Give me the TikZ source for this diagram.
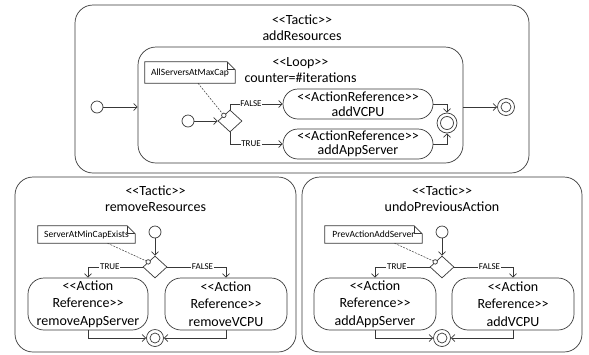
\documentclass[tikz,border=0pt]{standalone}
\usepackage{fontspec}
\setmainfont{Carlito}
\usetikzlibrary{arrows.meta,shapes.geometric,calc}
\newcommand\sopen{<\kern0pt<}
\newcommand\sclose{>\kern0pt>}
\newcommand\drawnote[2]{%
  \draw[ln] (#1.north west) -- ([xshift=-#2]#1.north east) -- ([yshift=-#2]#1.north east) -- (#1.south east) -- (#1.south west) -- cycle;
  \draw[ln] ([xshift=-#2]#1.north east) -- ([xshift=-#2,yshift=-#2]#1.north east) -- ([yshift=-#2]#1.north east);}
\begin{document}
\begin{tikzpicture}[x=1pt,y=-1pt,
  ln/.style={draw=black!78, line width=0.7pt},
  panel/.style={ln, rounded corners=18pt, inner sep=0},
  title/.style={align=center, inner sep=0, font=\fontsize{14}{16}\selectfont},
  act/.style={ln, rounded corners=15pt, inner sep=0, align=center, minimum width=150pt, minimum height=30pt, font=\fontsize{14}{14.5}\selectfont},
  actb/.style={ln, rounded corners=16pt, inner sep=0, align=center, minimum height=52pt, font=\fontsize{14}{17.5}\selectfont},
  init/.style={ln, circle, minimum size=12pt, inner sep=0},
  final/.style={ln, circle, minimum size=17pt, inner sep=0, path picture={\draw[ln] (path picture bounding box.center) circle (5pt);}},
  finalb/.style={ln, circle, minimum size=20pt, inner sep=0, path picture={\draw[ln] (path picture bounding box.center) circle (6.5pt);}},
  dec/.style={ln, diamond, minimum width=24pt, minimum height=22pt, inner sep=0, fill=white},
  sc/.style={ln, circle, minimum size=4.5pt, inner sep=0, fill=white},
  note/.style={inner sep=0, font=\fontsize{9.5}{11}\selectfont},
  lbl/.style={fill=white, inner sep=0.8pt, font=\fontsize{9}{10}\selectfont},
  arr/.style={ln, -{Straight Barb[length=3.5pt,width=7pt]}},
  dsh/.style={draw=black!78, line width=0.5pt, dash pattern=on 2pt off 1.2pt}]
\useasboundingbox (0,0) rectangle (589,354);

% panels
\node[panel, minimum width=454pt, minimum height=168pt] (top) at (302,89) {};
\node[panel, minimum width=325pt, minimum height=116pt] (loop) at (300.5,105) {};
\node[panel, minimum width=281pt, minimum height=175pt] (left) at (155.5,264.5) {};
\node[panel, minimum width=280pt, minimum height=175pt] (right) at (442,264.5) {};

% titles
\node[title] (t0) at (302,28) {\sopen Tactic\sclose\\addResources};
\node[title] (tl) at (300.5,70) {\sopen Loop\sclose\\counter=\#iterations};
\node[title] (t1) at (155.5,199) {\sopen Tactic\sclose\\removeResources};
\node[title] (t2) at (442,199) {\sopen Tactic\sclose\\undoPreviousAction};

% top diagram
\node[init] (i0) at (97,107) {};
\node[final] (f0) at (506,107) {};
\node[init] (i1) at (188,121) {};
\node[dec] (d1) at (230,121) {};
\node[sc] (c1) at ($(d1.west)!0.5!(d1.north)$) {};
\node[act] (a1) at (358,104) {\sopen ActionReference\sclose\\addVCPU};
\node[act] (a2) at (358,144) {\sopen ActionReference\sclose\\addAppServer};
\node[finalb] (f1) at (447,123) {};
\node[note, minimum width=90pt, minimum height=21pt] (n1) at (190,72.5) {AllServersAtMaxCap};
\drawnote{n1}{8pt}

\draw[arr] (i0) -- (i0 -| loop.west);
\draw[arr] (loop.east |- f0) -- (f0);
\draw[arr] (i1) -- (d1.west);
\draw[arr] (d1.north) |- node[lbl, pos=0.7] {FALSE} (a1.west);
\draw[arr] (d1.south) |- node[lbl, pos=0.7] {TRUE} (a2.west);
\draw[arr] (a1.east) -| (f1.north);
\draw[arr] (a2.east) -| (f1.south);
\draw[dsh] ([xshift=8pt]n1.south) -- (c1);

% bottom left
\node[init] (i2) at (155,232) {};
\node[dec] (d2) at (155,267) {};
\node[sc] (c2) at ($(d2.west)!0.45!(d2.north)$) {};
\node[actb, minimum width=120pt] (a3) at (88,304) {\sopen Action\\Reference\sclose\\removeAppServer};
\node[actb, minimum width=122pt] (a4) at (226,304) {\sopen Action\\Reference\sclose\\removeVCPU};
\node[final] (f2) at (155,338) {};
\node[note, minimum width=97pt, minimum height=17pt] (n2) at (86.5,234.5) {ServerAtMinCapExists};
\drawnote{n2}{8pt}

\draw[arr] (i2) -- (d2.north);
\draw[arr] (d2.west) -| node[lbl, pos=0.3] {TRUE} (a3.north);
\draw[arr] (d2.east) -| node[lbl, pos=0.3] {FALSE} (a4.north);
\draw[arr] (a3.south) |- (f2.west);
\draw[arr] (a4.south) |- (f2.east);
\draw[dsh] ([xshift=21pt]n2.south) -- (c2);

% bottom right
\node[init] (i3) at (442,232) {};
\node[dec] (d3) at (442,267) {};
\node[sc] (c3) at ($(d3.west)!0.45!(d3.north)$) {};
\node[actb, minimum width=122pt] (a5) at (375,304) {\sopen Action\\Reference\sclose\\addAppServer};
\node[actb, minimum width=122pt] (a6) at (513,304) {\sopen Action\\Reference\sclose\\addVCPU};
\node[final] (f3) at (442,338) {};
\node[note, minimum width=97pt, minimum height=17pt] (n3) at (373.5,234.5) {PrevActionAddServer};
\drawnote{n3}{8pt}

\draw[arr] (i3) -- (d3.north);
\draw[arr] (d3.west) -| node[lbl, pos=0.3] {TRUE} (a5.north);
\draw[arr] (d3.east) -| node[lbl, pos=0.3] {FALSE} (a6.north);
\draw[arr] (a5.south) |- (f3.west);
\draw[arr] (a6.south) |- (f3.east);
\draw[dsh] ([xshift=21pt]n3.south) -- (c3);
\end{tikzpicture}
\end{document}
